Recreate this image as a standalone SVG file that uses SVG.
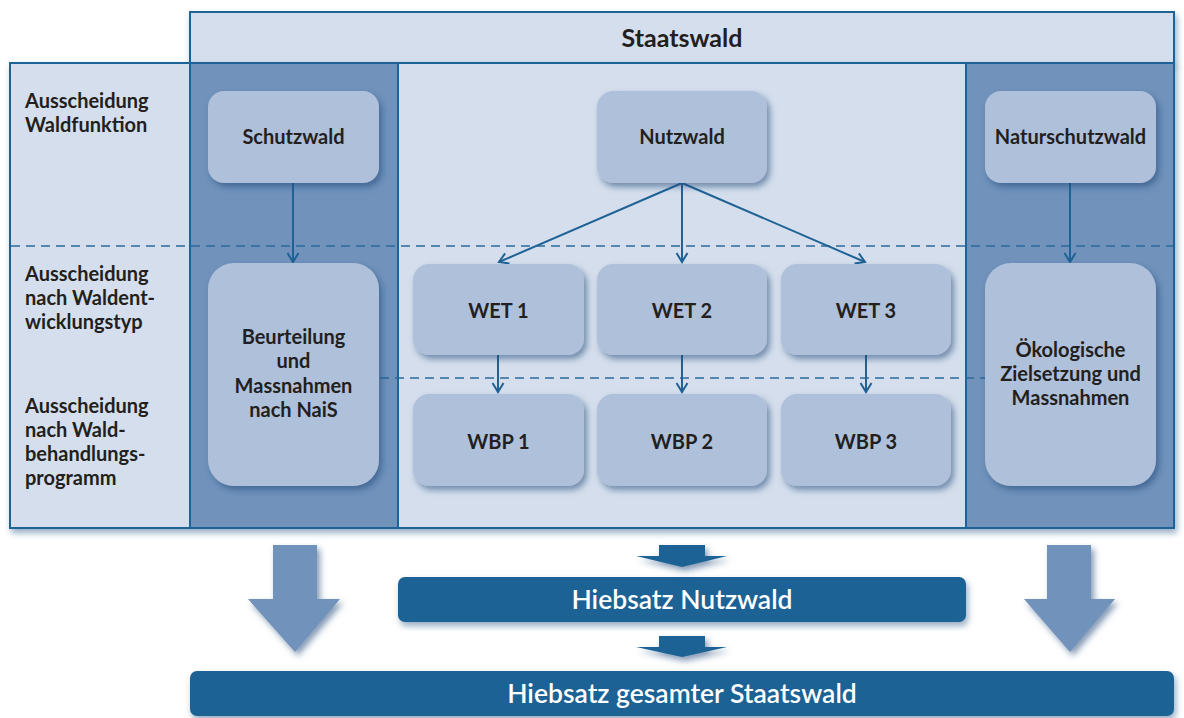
<svg xmlns="http://www.w3.org/2000/svg" width="1184" height="718" viewBox="0 0 1184 718">
<style>
  .txt{font-family:Lato,"Open Sans","Liberation Sans",sans-serif;font-weight:700;fill:#231f20;}
  .node{fill:#afc0da;filter:url(#sh);}
  .frame{stroke:#1f6396;stroke-width:2;}
  .conn{stroke:#1f6396;stroke-width:2;fill:none;marker-end:url(#ah);}
  .dash{stroke:#2a6a9a;stroke-width:1.6;stroke-dasharray:9,6;fill:none;}
  .wtxt{font-family:Lato,"Open Sans","Liberation Sans",sans-serif;font-weight:600;fill:#ffffff;font-size:26.5px;text-anchor:middle;}
</style>
<defs>
  <filter id="sh" x="-20%" y="-20%" width="150%" height="150%">
    <feDropShadow dx="3" dy="4" stdDeviation="3" flood-color="#1f4a7a" flood-opacity="0.55"/>
  </filter>
  <filter id="sh2" x="-5%" y="-10%" width="110%" height="130%">
    <feDropShadow dx="2" dy="4" stdDeviation="3" flood-color="#1f4a7a" flood-opacity="0.45"/>
  </filter>
  <marker id="ah" viewBox="-11 -7 13 14" refX="0" refY="0" markerWidth="13" markerHeight="14" markerUnits="userSpaceOnUse" orient="auto">
    <path d="M-9,-5.5 L0,0 L-9,5.5" fill="none" stroke="#1f6396" stroke-width="2"/>
  </marker>
</defs>
<rect width="1184" height="718" fill="#ffffff"/>

<g id="frame">
  <rect x="190" y="12" width="984" height="51" fill="#d4deec" class="frame" filter="url(#sh2)"/>
  <rect x="10" y="63" width="1164" height="465" fill="#d4deec" class="frame" filter="url(#sh2)"/>
  <rect x="190" y="63" width="208" height="465" fill="#7092bb" class="frame"/>
  <rect x="966" y="63" width="208" height="465" fill="#7092bb" class="frame"/>
  <text x="682" y="47" class="txt" font-size="25" text-anchor="middle">Staatswald</text>
</g>

<g id="dashes">
  <line x1="11" y1="246" x2="1173" y2="246" class="dash"/>
  <line x1="380" y1="378" x2="986" y2="378" class="dash"/>
</g>

<g id="row-labels" class="txt" font-size="20">
  <text x="25" y="108">Ausscheidung</text>
  <text x="25" y="132">Waldfunktion</text>
  <text x="25" y="281">Ausscheidung</text>
  <text x="25" y="305">nach Waldent-</text>
  <text x="25" y="329">wicklungstyp</text>
  <text x="25" y="413">Ausscheidung</text>
  <text x="25" y="437">nach Wald-</text>
  <text x="25" y="461">behandlungs-</text>
  <text x="25" y="485">programm</text>
</g>

<g id="connectors">
  <line x1="293" y1="183" x2="293" y2="262" class="conn"/>
  <line x1="682" y1="183" x2="499" y2="262" class="conn"/>
  <line x1="682" y1="183" x2="682" y2="262" class="conn"/>
  <line x1="682" y1="183" x2="865" y2="262" class="conn"/>
  <line x1="1070" y1="183" x2="1070" y2="262" class="conn"/>
  <line x1="498" y1="355" x2="498" y2="392" class="conn"/>
  <line x1="682" y1="355" x2="682" y2="392" class="conn"/>
  <line x1="866" y1="355" x2="866" y2="392" class="conn"/>
</g>

<g id="schutzwald"><rect x="208" y="91" width="171" height="92" rx="16" class="node"/><text x="293.5" y="144" class="txt" font-size="20" text-anchor="middle">Schutzwald</text></g>
<g id="nutzwald"><rect x="597" y="91" width="170" height="92" rx="16" class="node"/><text x="682" y="144" class="txt" font-size="20" text-anchor="middle">Nutzwald</text></g>
<g id="naturschutzwald"><rect x="985" y="91" width="171" height="92" rx="16" class="node"/><text x="1070.5" y="144" class="txt" font-size="20" text-anchor="middle">Naturschutzwald</text></g>

<g id="beurteilung"><rect x="208" y="263" width="171" height="223" rx="26" class="node"/>
  <text class="txt" font-size="20" text-anchor="middle"><tspan x="293.5" y="344">Beurteilung</tspan><tspan x="293.5" y="368">und</tspan><tspan x="293.5" y="393">Massnahmen</tspan><tspan x="293.5" y="417">nach NaiS</tspan></text></g>
<g id="wet1"><rect x="413" y="264" width="171" height="91" rx="16" class="node"/><text x="498.5" y="318" class="txt" font-size="20" text-anchor="middle">WET 1</text></g>
<g id="wet2"><rect x="597" y="264" width="170" height="91" rx="16" class="node"/><text x="682" y="318" class="txt" font-size="20" text-anchor="middle">WET 2</text></g>
<g id="wet3"><rect x="781" y="264" width="170" height="91" rx="16" class="node"/><text x="866" y="318" class="txt" font-size="20" text-anchor="middle">WET 3</text></g>
<g id="wbp1"><rect x="413" y="394" width="171" height="92" rx="16" class="node"/><text x="498.5" y="449" class="txt" font-size="20" text-anchor="middle">WBP 1</text></g>
<g id="wbp2"><rect x="597" y="394" width="170" height="92" rx="16" class="node"/><text x="682" y="449" class="txt" font-size="20" text-anchor="middle">WBP 2</text></g>
<g id="wbp3"><rect x="781" y="394" width="170" height="92" rx="16" class="node"/><text x="866" y="449" class="txt" font-size="20" text-anchor="middle">WBP 3</text></g>
<g id="oekologische"><rect x="985" y="263" width="171" height="223" rx="26" class="node"/>
  <text class="txt" font-size="20" text-anchor="middle"><tspan x="1070.5" y="357">Ökologische</tspan><tspan x="1070.5" y="381">Zielsetzung und</tspan><tspan x="1070.5" y="405">Massnahmen</tspan></text></g>

<g id="big-arrows" fill="#7092bb" filter="url(#sh)">
  <polygon points="273,545 317,545 317,599 340,599 295,652 248,599 273,599"/>
  <polygon points="1047,545 1091,545 1091,599 1115,599 1070,652 1024,599 1047,599"/>
</g>
<g id="small-arrows" fill="#1c6295" filter="url(#sh)">
  <polygon points="659,545 705,545 705,556 727,556 682,567 636,556 659,556"/>
  <polygon points="659,636 705,636 705,647 727,647 682,657 636,647 659,647"/>
</g>

<g id="hiebsatz-nutzwald"><rect x="398" y="577" width="568" height="45" rx="7" fill="#1c6295" filter="url(#sh2)"/><text x="682" y="609" class="wtxt">Hiebsatz Nutzwald</text></g>
<g id="hiebsatz-gesamt"><rect x="190" y="671" width="984" height="45" rx="7" fill="#1c6295" filter="url(#sh2)"/><text x="682" y="703" class="wtxt">Hiebsatz gesamter Staatswald</text></g>
</svg>
